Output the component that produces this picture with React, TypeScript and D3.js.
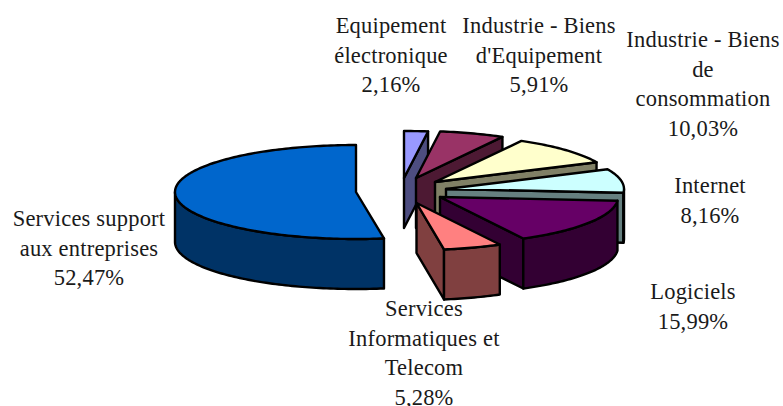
import React from "react";
import * as d3 from "d3";

const WIDTH = 783;
const HEIGHT = 406;

// Data, clockwise from 12 o'clock
const categories = [
  "Equipement électronique",
  "Industrie - Biens d'Equipement",
  "Industrie - Biens de consommation",
  "Internet",
  "Logiciels",
  "Services Informatiques et Telecom",
  "Services support aux entreprises",
];
const percents = [2.16, 5.91, 10.03, 8.16, 15.99, 5.28, 52.47];
const percentLabels = ["2,16%", "5,91%", "10,03%", "8,16%", "15,99%", "5,28%", "52,47%"];

const topColors = ["#9999FF", "#993366", "#FFFFCC", "#CCFFFF", "#660066", "#FF8080", "#0066CC"];
const sideColors = ["#4D4D80", "#4D1933", "#808066", "#668080", "#330033", "#804040", "#003366"];

// Layout
const explodedCentres: [number, number][] = [
  [404, 178],
  [416, 178],
  [435, 182],
  [446, 189],
  [440, 197],
  [416.5, 203],
  [356, 192],
];
const RX = 178;
const RY = 47;
const RX_BLUE = 181;
const DEPTH = 50;

const labelLines: string[][] = [
  ["Equipement", "électronique"],
  ["Industrie - Biens", "d'Equipement"],
  ["Industrie - Biens", "de", "consommation"],
  ["Internet"],
  ["Logiciels"],
  ["Services", "Informatiques et", "Telecom"],
  ["Services support", "aux entreprises"],
];
const labelAnchors: [number, number][] = [
  [391, 33],
  [539, 33],
  [703, 47],
  [710, 193],
  [693, 299],
  [424, 316],
  [89, 226],
];
const LINE_STEP = 29.5;

const pieGen = d3
  .pie<number>()
  .sort(null)
  .startAngle(0)
  .endAngle(2 * Math.PI);
const arcs = pieGen(percents);
const line = d3.line<[number, number]>();

function pt(c: [number, number], rx: number, a: number, dy = 0): [number, number] {
  return [c[0] + rx * Math.sin(a), c[1] - RY * Math.cos(a) + dy];
}

function sampleAngles(a0: number, a1: number): number[] {
  const n = Math.max(2, Math.ceil((a1 - a0) / 0.02));
  return d3.range(n + 1).map((i) => a0 + ((a1 - a0) * i) / n);
}

export default function App() {
  const strokeProps = { stroke: "#000", strokeWidth: 2.4, strokeLinejoin: "round" as const };
  return (
    <svg
      width={WIDTH}
      height={HEIGHT}
      viewBox={`0 0 ${WIDTH} ${HEIGHT}`}
      style={{ position: "absolute", left: 0, top: 0, background: "#fff" }}
    >
      {arcs.map((d, i) => {
        const c = explodedCentres[i];
        const rx = i === 6 ? RX_BLUE : RX;
        const { startAngle: a0, endAngle: a1 } = d;
        const top: [number, number][] = [c, ...sampleAngles(a0, a1).map((a) => pt(c, rx, a))];
        // End cut face, visible while the end radius points to the right half
        const showEnd = a1 < Math.PI;
        const endFace: [number, number][] = [
          c,
          pt(c, rx, a1),
          pt(c, rx, a1, DEPTH),
          [c[0], c[1] + DEPTH],
        ];
        // Outer wall, visible on the front half of the ellipse
        const w0 = Math.max(a0, Math.PI / 2);
        const w1 = Math.min(a1, (3 * Math.PI) / 2);
        const wallAngles = w1 > w0 ? sampleAngles(w0, w1) : [];
        const wall: [number, number][] = [
          ...wallAngles.map((a) => pt(c, rx, a)),
          ...wallAngles
            .slice()
            .reverse()
            .map((a) => pt(c, rx, a, DEPTH)),
        ];
        return (
          <g key={categories[i]}>
            {showEnd && <path d={line(endFace) + "Z"} fill={sideColors[i]} {...strokeProps} />}
            {wall.length > 0 && <path d={line(wall) + "Z"} fill={sideColors[i]} {...strokeProps} />}
            <path d={line(top) + "Z"} fill={topColors[i]} {...strokeProps} />
          </g>
        );
      })}
      <g
        fontFamily="'Liberation Serif', serif"
        fontSize={22.5}
        letterSpacing={0.2}
        fill="#1a1a1a"
        textAnchor="middle"
      >
        {categories.map((name, i) => {
          const [x, y] = labelAnchors[i];
          const lines = [...labelLines[i], percentLabels[i]];
          return (
            <text key={name}>
              {lines.map((l, j) => (
                <tspan key={j} x={x} y={y + j * LINE_STEP}>
                  {l}
                </tspan>
              ))}
            </text>
          );
        })}
      </g>
    </svg>
  );
}
